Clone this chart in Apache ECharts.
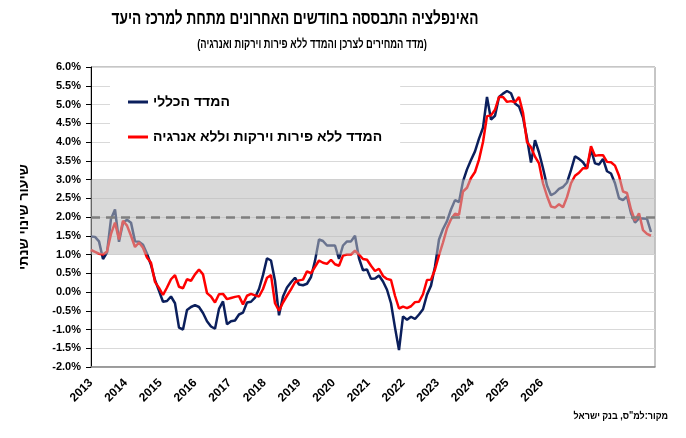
<!DOCTYPE html>
<html>
<head>
<meta charset="utf-8">
<script src="https://cdn.jsdelivr.net/npm/echarts@6/dist/echarts.min.js"></script>
<style>
  html, body { margin: 0; padding: 0; background: #fff; }
  #chart { width: 686px; height: 438px; }
</style>
</head>
<body>
<div id="chart"></div>
<script>
// year labels on the x axis
const yearLabels = ['2013', '2014', '2015', '2016', '2017', '2018', '2019',
  '2020', '2021', '2022', '2023', '2024', '2025', '2026'];

// annual change, general CPI (%)
const cpiAll = [
  1.48, 1.47, 1.35, 0.88, 1.05, 1.95, 2.2, 1.34, 1.85, 1.93,
  1.85, 1.35, 1.34, 1.26, 1.02, 0.72, 0.32, 0.03, -0.26, -0.24,
  -0.12, -0.3, -0.95, -1.0, -0.48, -0.4, -0.35, -0.4, -0.56, -0.78,
  -0.92, -0.98, -0.45, -0.25, -0.86, -0.78, -0.76, -0.6, -0.55, -0.28,
  -0.26, -0.15, 0.08, 0.45, 0.9, 0.84, 0.3, -0.62, -0.12, 0.12,
  0.26, 0.38, 0.2, 0.18, 0.22, 0.4, 0.83, 1.4, 1.36, 1.24,
  1.24, 1.24, 0.88, 1.24, 1.35, 1.35, 1.5, 0.9, 0.58, 0.6,
  0.35, 0.36, 0.44, 0.28, 0.06, -0.3, -0.95, -1.55, -0.65, -0.74,
  -0.66, -0.72, -0.6, -0.46, -0.07, 0.17, 0.68, 1.4, 1.68, 1.89,
  2.2, 2.45, 2.4, 2.95, 3.27, 3.52, 3.75, 4.09, 4.38, 5.2,
  4.6, 4.7, 5.2, 5.29, 5.36, 5.3, 5.03, 4.95, 4.65, 4.1,
  3.45, 4.05, 3.72, 3.3, 2.84, 2.58, 2.64, 2.75, 2.8, 2.92,
  3.25, 3.62, 3.55, 3.46, 3.3, 3.8, 3.43, 3.4, 3.55, 3.22,
  3.16, 2.9, 2.5, 2.45, 2.55, 2.1, 1.85, 1.96, 1.96, 1.95,
  1.6
];

// annual change, CPI excluding fruit, vegetables and energy (%)
const cpiCore = [
  1.12, 1.07, 1.02, 1.0, 1.08, 1.55, 1.85, 1.4, 1.9, 1.77,
  1.5, 1.2, 1.32, 1.18, 0.92, 0.78, 0.27, 0.11, -0.08, 0.12,
  0.34, 0.45, 0.14, 0.1, 0.34, 0.3, 0.47, 0.6, 0.47, -0.03,
  -0.12, -0.28, -0.06, -0.05, -0.19, -0.16, -0.13, -0.11, -0.33, -0.1,
  -0.05, -0.09, -0.12, 0.08, 0.38, 0.45, -0.3, -0.5, -0.28, -0.1,
  0.07, 0.26, 0.31, 0.33, 0.55, 0.5, 0.67, 0.84, 0.78, 0.75,
  0.86, 0.74, 0.7, 0.97, 1.0, 1.0, 1.1, 1.0, 0.88, 0.86,
  0.7, 0.56, 0.62, 0.43, 0.35, 0.32, -0.1, -0.44, -0.39, -0.43,
  -0.38, -0.27, -0.26, -0.06, 0.32, 0.33, 0.6, 0.98, 1.32, 1.7,
  1.94, 2.09, 2.06, 2.68, 2.78, 3.04, 3.2, 3.53, 4.0, 4.69,
  4.71, 4.86, 5.2, 5.2, 5.07, 5.09, 5.06, 5.2, 4.78, 4.0,
  3.86, 3.61, 3.43, 2.9, 2.56, 2.28, 2.25, 2.34, 2.26, 2.53,
  2.9, 3.1, 3.18, 3.3, 3.3, 3.89, 3.63, 3.65, 3.65, 3.47,
  3.46, 3.37, 3.1, 2.68, 2.64, 2.2, 1.9, 2.1, 1.65, 1.55,
  1.5
];

// inflation target range and its centre
const targetBand = [1, 3];
const targetMid = 2;

const seriesNames = ['המדד הכללי', 'המדד ללא פירות וירקות וללא אנרגיה'];

const FONT = '"Liberation Sans", Arial, "DejaVu Sans", sans-serif';

let myChart = echarts.init(document.getElementById('chart'));
myChart.setOption({
  backgroundColor: '#fff',
  animation: false,
  textStyle: { fontFamily: FONT },
  legend: {
    orient: 'vertical',
    left: 110, top: 75,
    padding: [20, 18, 10, 18],
    backgroundColor: '#fff',
    icon: 'rect',
    itemWidth: 20, itemHeight: 3, itemGap: 21,
    textStyle: { fontSize: 14, fontWeight: 'bold', color: '#000', fontFamily: FONT },
    data: seriesNames
  },
  grid: {
    left: 91, right: 31, top: 67, bottom: 71,
    show: true, borderColor: '#8c8c8c', borderWidth: 1
  },
  xAxis: [
    {
      type: 'value',
      min: 2013, max: 2013 + 564 / 34.67, interval: 1,
      axisLine: { show: true, onZero: false, lineStyle: { color: '#8c8c8c', width: 1.5 } },
      axisTick: { show: false },
      splitLine: { show: false },
      axisLabel: {
        rotate: 45, margin: 14, fontSize: 12, fontWeight: 'bold', color: '#000',
        showMaxLabel: false,
        formatter: v => yearLabels[Math.round(v - 2013)] || ''
      }
    },
    {
      type: 'value', min: 0, max: 141, show: false
    }
  ],
  yAxis: {
    type: 'value', min: -2, max: 6, interval: 0.5,
    name: 'שיעור שינוי שנתי',
    nameLocation: 'middle', nameGap: 60, nameRotate: 90,
    nameTextStyle: { fontSize: 14, fontWeight: 'bold', color: '#000', fontFamily: FONT },
    axisLine: { show: true, lineStyle: { color: '#000', width: 1 } },
    axisTick: { show: true, inside: false, length: 5, lineStyle: { color: '#000' } },
    axisLabel: {
      margin: 10, fontSize: 11, fontWeight: 'bold', color: '#000',
      formatter: v => v.toFixed(1) + '%'
    },
    splitLine: { lineStyle: { color: '#d9d9d9', width: 1 } }
  },
  series: [
    {
      name: seriesNames[0], type: 'line', xAxisIndex: 1,
      symbol: 'none', z: 2,
      lineStyle: { color: '#0b1f5c', width: 2.5 },
      itemStyle: { color: '#0b1f5c' },
      data: cpiAll.map((v, i) => [i, v])
    },
    {
      name: seriesNames[1], type: 'line', xAxisIndex: 1,
      symbol: 'none', z: 3,
      lineStyle: { color: '#ff0000', width: 2.5 },
      itemStyle: { color: '#ff0000' },
      data: cpiCore.map((v, i) => [i, v])
    },
    {
      name: 'target', type: 'line', xAxisIndex: 1, data: [],
      markArea: {
        silent: true, z: 6,
        itemStyle: { color: 'rgb(186,186,186)', opacity: 0.55 },
        data: [[{ yAxis: targetBand[0] }, { yAxis: targetBand[1] }]]
      },
      markLine: {
        silent: true, z: 7, symbol: 'none',
        label: { show: false },
        lineStyle: { color: '#7f7f7f', width: 2.5, type: [9, 6] },
        data: [{ yAxis: targetMid }]
      }
    }
  ],
  graphic: [
    {
      type: 'text', x: 295, y: 19, scaleX: 0.76,
      style: {
        text: 'האינפלציה התבססה בחודשים האחרונים מתחת למרכז היעד',
        font: 'bold 18px ' + FONT, fill: '#000',
        textAlign: 'center', textVerticalAlign: 'middle'
      }
    },
    {
      type: 'text', x: 312, y: 44, scaleX: 0.72,
      style: {
        text: '(מדד המחירים לצרכן והמדד ללא פירות וירקות ואנרגיה)',
        font: 'bold 13px ' + FONT, fill: '#000',
        textAlign: 'center', textVerticalAlign: 'middle'
      }
    },
    {
      type: 'text', x: 668, y: 416, scaleX: 0.9,
      style: {
        text: 'מקור:למ"ס, בנק ישראל',
        font: 'bold 10px ' + FONT, fill: '#000',
        textAlign: 'right', textVerticalAlign: 'middle'
      }
    }
  ]
});

window.addEventListener('resize', function() {
  myChart.resize();
});
</script>
</body>
</html>
